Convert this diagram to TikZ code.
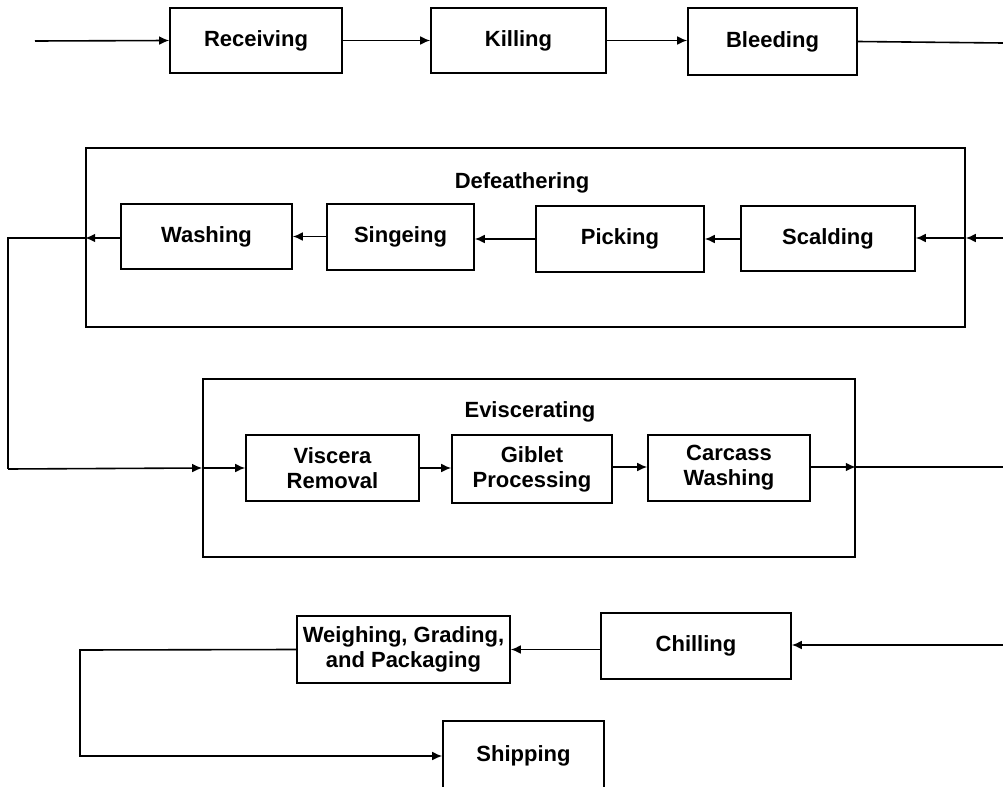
\documentclass[tikz,border=0pt]{standalone}
\usepackage{fontspec}
\setmainfont{Liberation Sans}
\usepackage{tikz}
\usetikzlibrary{arrows.meta, positioning}

\begin{document}
\begin{tikzpicture}[x=0.5pt, y=-0.5pt,
    stage/.style={draw, line width=0.8pt, align=center, inner sep=0pt,
      font=\fontsize{11}{12.4}\selectfont\bfseries},
    frame/.style={draw, line width=0.8pt, inner sep=0pt},
    arr/.style={line width=0.8pt, -{Latex[length=5pt, width=4.4pt]}},
    lin/.style={line width=0.8pt}]
      \clip (0,0) rectangle (1003,787);
      \useasboundingbox (0,0) rectangle (1003,787);

      % first row
      \node[stage, minimum width=86pt, minimum height=32.5pt] (recv) at (256,40.5) {Receiving};
      \node[stage, minimum width=87.5pt, minimum height=32.5pt] (kill) at (518.5,40.5) {Killing};
      \node[stage, minimum width=84.5pt, minimum height=33.5pt] (bleed) at (772.5,41.5) {Bleeding};
      \coordinate (start) at (35,41);
      \coordinate (out1) at (1003,43);

      % defeathering
      \node[frame, minimum width=439.5pt, minimum height=89.5pt] (defeather) at (525.5,237.5) {};
      \node[font=\fontsize{11}{12.4}\selectfont\bfseries] (deflabel) at (522,183) {Defeathering};
      \node[stage, minimum width=85.5pt, minimum height=32.5pt] (wash) at (206.5,236.5) {Washing};
      \node[stage, minimum width=73.5pt, minimum height=33pt] (singe) at (400.5,237) {Singeing};
      \node[stage, minimum width=84pt, minimum height=33pt] (pick) at (620,239) {Picking};
      \node[stage, minimum width=87pt, minimum height=32.5pt] (scald) at (828,238.5) {Scalding};
      \coordinate (in2) at (1003,238);
      \coordinate (down1) at (8,238);

      % eviscerating
      \node[frame, minimum width=326pt, minimum height=89pt] (evisc) at (529,468) {};
      \node[font=\fontsize{11}{12.4}\selectfont\bfseries] (evlabel) at (530,412) {Eviscerating};
      \node[stage, minimum width=86.5pt, minimum height=33pt] (visc) at (332.5,468) {Viscera\\Removal};
      \node[stage, minimum width=80pt, minimum height=34pt] (giblet) at (532,469) {Giblet\\Processing};
      \node[stage, minimum width=81pt, minimum height=33pt] (carcass) at (729,468) {Carcass\\Washing};
      \coordinate (down2) at (8,469);
      \coordinate (out3) at (1003,467);

      % last rows
      \node[stage, minimum width=95pt, minimum height=33pt] (chill) at (696,646) {Chilling};
      \node[stage, minimum width=106.5pt, minimum height=33.5pt] (weigh) at (403.5,649.5) {Weighing, Grading,\\and Packaging};
      \node[stage, minimum width=80.5pt, minimum height=35pt] (ship) at (523.5,756) {Shipping};
      \coordinate (in4) at (1003,645);
      \coordinate (turn) at (80,650);

      \draw[arr] (start) -- (recv.west);
      \draw[arr] (recv) -- (kill);
      \draw[arr] (kill.east) -- (bleed.west |- kill.east);
      \draw[lin] (bleed.east) -- (out1);

      \draw[arr] (in2) -- (defeather.east |- in2);
      \draw[arr] (defeather.east |- in2) -- (scald.east |- in2);
      \draw[arr] (scald.west |- pick.east) -- (pick.east);
      \draw[arr] (pick.west) -- (singe.east |- pick.west);
      \draw[arr] (singe.west |- wash.east) -- (wash.east);
      \draw[arr] (wash.west |- in2) -- (defeather.west |- in2);
      \draw[lin] (defeather.west |- in2) -- (down1) -- (down2);

      \draw[arr] (down2) -- (evisc.west |- visc);
      \draw[arr] (evisc.west |- visc) -- (visc.west);
      \draw[arr] (visc.east) -- (giblet.west |- visc.east);
      \draw[arr] (giblet.east |- out3) -- (carcass.west |- out3);
      \draw[arr] (carcass.east |- out3) -- (evisc.east |- out3);
      \draw[lin] (evisc.east |- out3) -- (out3);

      \draw[arr] (in4) -- (chill.east |- in4);
      \draw[arr] (chill.west |- weigh.east) -- (weigh.east);
      \draw[arr] (weigh.west) -- (turn) |- (ship.west);
\end{tikzpicture}
\end{document}
